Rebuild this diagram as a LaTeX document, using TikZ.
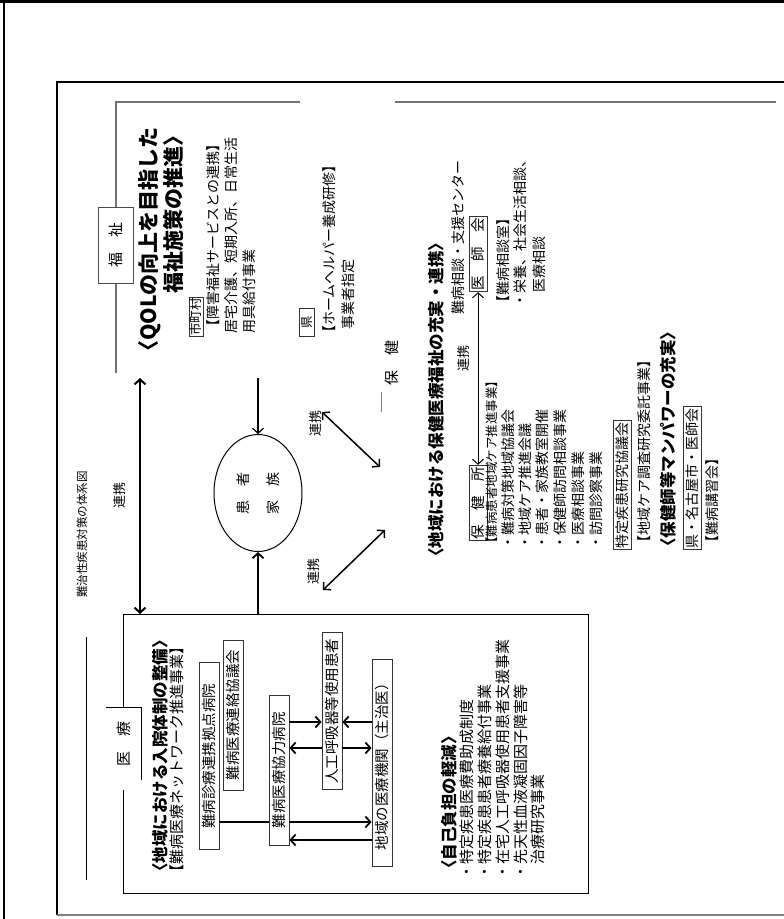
\documentclass[tikz,border=0pt]{standalone}
\usepackage{fontspec}
\setmainfont{Noto Sans CJK JP}
\usetikzlibrary{arrows.meta, shapes.geometric}

\tikzset{
  frame/.style={draw=black!55, line width=1.6pt},
  rtext/.style={rotate=90, anchor=west, inner sep=0pt, font=\fontsize{15}{15}\selectfont},
  stext/.style={rtext, font=\fontsize{14}{14}\selectfont},
  htext/.style={rtext, font=\fontsize{16.5}{16.5}\selectfont\bfseries},
  rbox/.style={rotate=90, draw=black!80, line width=0.8pt, inner sep=1.5pt, minimum height=20pt, font=\fontsize{14.5}{14.5}\selectfont},
  tab/.style={rotate=90, minimum height=35pt, font=\fontsize{15}{15}\selectfont},
  rlabel/.style={rotate=90, inner sep=0pt, font=\fontsize{13}{13}\selectfont},
  arr/.style={-{Straight Barb[length=5pt,width=11pt]}, line width=1.8pt},
  darr/.style={{Straight Barb[length=5pt,width=11pt]}-{Straight Barb[length=5pt,width=11pt]}, line width=1.8pt},
}

\begin{document}
\begin{tikzpicture}[x=1pt, y=-1pt]
  \useasboundingbox (0,0) rectangle (784,919);
  % outer frames
  \draw[line width=3pt] (0,1.5) -- (784,1.5);
  \draw[line width=1.5pt] (4,0) -- (4,919);
  \draw[line width=1.2pt] (784,82) -- (57,82) -- (57,915);
  \draw[line width=1.2pt, black!50] (57,915) -- (784,915);

  % title
  \node[rtext, font=\fontsize{11.5}{11.5}\selectfont] (title) at (82,598) {難治性疾患対策の体系図};
  \draw[line width=0.8pt] (86,637) -- (86,880);

  % 福祉
  \draw[frame] (300,102) -- (116,102) -- (116,207);
  \draw[frame] (116,283) -- (116,373);
  \node[tab, draw=black!70, fill=white, line width=0.8pt, minimum width=76pt] (tabfuku) at (116,245) {福　祉};
  \node[rtext, anchor=east, font=\fontsize{21}{21}\selectfont\bfseries] (fukuhdrA) at (150,127) {〈QOLの向上を目指した};
  \node[rtext, anchor=east, font=\fontsize{21}{21}\selectfont\bfseries] (fukuhdrB) at (173,125) {福祉施策の推進〉};
  \node[rbox, minimum height=14pt, inner sep=0.5pt, font=\fontsize{12.5}{12.5}\selectfont] (shichoson) at (196,317) {市町村};
  \node[stext] (shogai) at (213,334) {【障害福祉サービスとの連携】};
  \node[stext] (kyotaku) at (231,334) {居宅介護、短期入所、日常生活};
  \node[stext] (yogu) at (249,334) {用具給付事業};
  \node[rbox, minimum height=15pt, minimum width=28pt, inner sep=0.5pt, font=\fontsize{12.5}{12.5}\selectfont] (ken) at (307,322) {県};
  \node[stext] (helper) at (329,340) {【ホームヘルパー養成研修】};
  \node[stext] (jigyosha) at (348,330) {事業者指定};

  % 医療
  \draw[line width=1pt] (123,708) -- (123,614) -- (588,614) -- (588,893) -- (123,893) -- (123,790);
  \node[tab, minimum width=72pt] (tabiryo) at (124,744) {医　療};
  \draw[line width=1pt] (tabiryo.north east) -- (tabiryo.south east) -- (tabiryo.south west);
  \node[htext] (iryohdr) at (160,880) {〈地域における入院体制の整備〉};
  \node[rtext] (iryonet) at (177,880) {【難病医療ネットワーク推進事業】};
  \node[rbox, minimum width=187pt] (kyoten) at (209,756) {難病診療連携拠点病院};
  \node[rbox, minimum width=150pt] (renraku) at (233,715) {難病医療連絡協議会};
  \node[rbox, minimum width=150pt] (kyoryoku) at (279,770) {難病医療協力病院};
  \node[rbox, minimum width=157pt] (jinko) at (332,711) {人工呼吸器等使用患者};
  \node[rbox, minimum width=207pt] (chiiki) at (382,763) {地域の医療機関（主治医）};
  \coordinate (ya) at (0,722);
  \coordinate (yb) at (0,748);
  \coordinate (yc) at (0,822);
  \coordinate (yd) at (0,840);
  \draw[arr] (kyoryoku.south |- ya) -- (jinko.north |- ya);
  \draw[arr] (jinko.north |- yb) -- (kyoryoku.south |- yb);
  \draw[arr] (chiiki.north |- ya) -- (jinko.south |- ya);
  \draw[arr] (jinko.south |- yb) -- (chiiki.north |- yb);
  \draw[line width=1.8pt] (kyoten.south |- yc) -- (kyoryoku.north |- yc);
  \draw[arr] (kyoryoku.south |- yc) -- (chiiki.north |- yc);
  \draw[arr] (chiiki.north |- yd) -- (kyoryoku.south |- yd);
  \node[htext] (jiko) at (449,877) {〈自己負担の軽減〉};
  \node[rtext] (jikoA) at (467,880) {・特定疾患医療費助成制度};
  \node[rtext] (jikoB) at (485,880) {・特定疾患患者療養給付事業};
  \node[rtext] (jikoC) at (503,880) {・在宅人工呼吸器使用患者支援事業};
  \node[rtext] (jikoD) at (521,880) {・先天性血液凝固因子障害等};
  \node[rtext] (jikoE) at (538,865) {治療研究事業};

  % 患者・家族
  \node[draw, ellipse, rotate=90, line width=1pt, minimum width=117pt, minimum height=88pt, align=center, font=\fontsize{14}{30}\selectfont] (kanja) at (258,493) {患　者\\家　族};
  \coordinate (iryotop) at (259,614);
  \coordinate (fukubot) at (260,378);
  \draw[arr] (kanja.west |- iryotop) -- (kanja.west);
  \draw[arr, line width=1.2pt] (kanja.east |- fukubot) -- (kanja.east);

  % 連携
  \coordinate (renkeitop) at (140,378);
  \draw[darr, line width=2pt] (renkeitop) -- (renkeitop |- iryotop);
  \node[rlabel] (renkeiA) at (120,495) {連携};
  \coordinate (diagA1) at (322,412);
  \coordinate (diagA2) at (380,467);
  \draw[darr, line width=1.5pt] (diagA1) -- (diagA2);
  \node[rlabel] (renkeiB) at (316,423) {連携};
  \coordinate (diagB1) at (323,590);
  \coordinate (diagB2) at (385,530);
  \draw[darr, line width=1.5pt] (diagB1) -- (diagB2);
  \node[rlabel] (renkeiC) at (314,571) {連携};

  % 保健
  \draw[frame] (395,102) -- (776,102);
  \node[tab] (tabhoken) at (392,363) {保　健};
  \draw[black!50, line width=1pt] (381,392) -- (381,412);
  \node[htext] (hokenhdr) at (436,565) {〈地域における保健医療福祉の充実・連携〉};
  \node[rtext, font=\fontsize{14}{14}\selectfont] (center) at (458,315) {難病相談・支援センター};
  \node[rbox, minimum width=50pt, minimum height=18pt] (ishikai) at (478,254) {医　師　会};
  \node[rtext, font=\fontsize{14}{14}\selectfont] (sodanshitsu) at (503,310) {【難病相談室】};
  \node[rtext, font=\fontsize{14}{14}\selectfont] (eiyo) at (520,308) {・栄養、社会生活相談、};
  \node[rtext, font=\fontsize{14}{14}\selectfont] (iryosodan) at (539,293) {医療相談};
  \node[rbox, minimum width=66pt, minimum height=18pt] (hokenjo) at (478,503) {保　健　所};
  \draw[darr, line width=1pt] (ishikai.west) -- (hokenjo.east);
  \node[rlabel] (renkeiD) at (464,358) {連携};
  \node[rtext, font=\fontsize{12.5}{12.5}\selectfont] (careA) at (492,550) {【難病患者地域ケア推進事業】};
  \node[rtext, font=\fontsize{14}{14}\selectfont] (careB) at (508,550) {・難病対策地域協議会};
  \node[rtext, font=\fontsize{14}{14}\selectfont] (careC) at (525,550) {・地域ケア推進会議};
  \node[rtext, font=\fontsize{14}{14}\selectfont] (careD) at (542,550) {・患者・家族教室開催};
  \node[rtext, font=\fontsize{14}{14}\selectfont] (careE) at (560,550) {・保健師訪問相談事業};
  \node[rtext, font=\fontsize{14}{14}\selectfont] (careF) at (578,550) {・医療相談事業};
  \node[rtext, font=\fontsize{14}{14}\selectfont] (careG) at (596,550) {・訪問診察事業};
  \node[rbox, anchor=west, minimum height=18pt, font=\fontsize{14}{14}\selectfont] (kyogikai) at (622,550) {特定疾患研究協議会};
  \node[rtext, font=\fontsize{14}{14}\selectfont] (itaku) at (644,550) {【地域ケア調査研究委託事業】};
  \node[htext] (manpower) at (668,555) {〈保健師等マンパワーの充実〉};
  \node[rbox, anchor=west, minimum height=18pt, font=\fontsize{14}{14}\selectfont] (nagoya) at (692,550) {県・名古屋市・医師会};
  \node[rtext, font=\fontsize{14}{14}\selectfont] (koshu) at (712,550) {【難病講習会】};
\end{tikzpicture}
\end{document}
